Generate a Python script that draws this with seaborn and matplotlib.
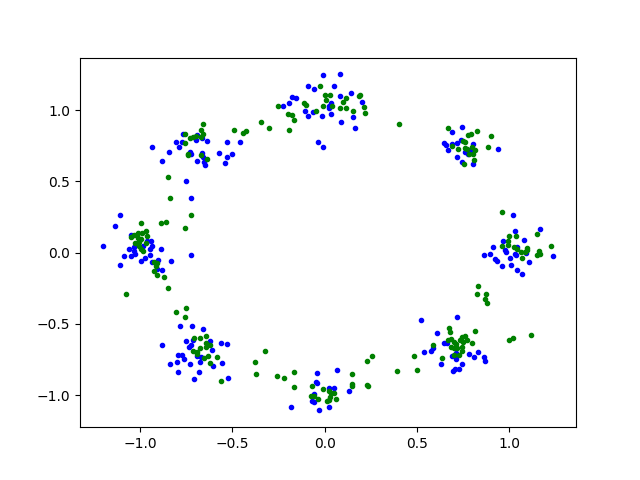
import matplotlib
matplotlib.use("Agg")
import matplotlib.pyplot as plt
import seaborn as sns

# values, one line per cluster
blue_x = [
    -0.938, -0.846, -0.884, -0.808, -0.792, -0.775, -0.770, -0.754, -0.699, -0.694, -0.694, -0.732, -0.725,
    -0.667, -0.639, -0.667, -0.661, -0.656, -0.650, -0.574, -0.531, -0.531, -0.504, -0.540, -0.460,
    -0.009, 0.083, -0.091, -0.058, 0.051, -0.178, -0.156, -0.194, -0.227, 0.083, 0.143, 0.203, 0.034,
    0.023, 0.023, -0.107, -0.091, -0.064, -0.015, 0.034, 0.154, 0.089, 0.165, -0.036, -0.009,
    0.746, 0.692, 0.648, 0.659, 0.670, 0.692, 0.719, 0.741, 0.806, 0.762, 0.719, 0.746, 0.806, 0.942, 0.779, 0.791,
    -0.726, -0.726, -1.107, -1.139, -1.204, -1.063, -1.085, -1.112, -1.047, -1.036, -1.030, -1.047, -1.036, -0.943,
    -0.938, -0.949, -0.949, -0.982, -0.889, -0.976, -0.993, -0.906, -0.835, -0.938, -0.879, -0.911, -0.965,
    1.024, 1.034, 1.170, 1.083, 0.969, 0.915, 0.980, 0.986, 0.866, 0.899, 0.926, 0.937, 0.964, 1.007, 1.013,
    1.034, 1.045, 1.045, 1.073, 1.111, 1.094, 1.241, 1.040,
    -0.786, -0.721, -0.661, -0.879, -0.754, -0.715, -0.726, -0.737, -0.623, -0.612, -0.563, -0.531, -0.797, -0.775,
    -0.764, -0.802, -0.840, -0.731, -0.694, -0.672, -0.677, -0.607, -0.558, -0.797, -0.683, -0.710, -0.525,
    -0.042, 0.067, -0.047, -0.042, 0.024, 0.051, 0.132, -0.058, -0.069, -0.058, -0.183, -0.031, 0.024,
    0.524, 0.720, 0.611, 0.649, 0.665, 0.540, 0.578, 0.589, 0.785, 0.812, 0.834, 0.866, 0.872, 0.747, 0.730,
    0.709, 0.698, 0.632, 0.714, 0.692, 0.714,
]
blue_y = [
    0.738, 0.703, 0.640, 0.773, 0.738, 0.773, 0.829, 0.500, 0.787, 0.822, 0.640, 0.703, 0.689,
    0.801, 0.780, 0.696, 0.668, 0.633, 0.612, 0.696, 0.773, 0.668, 0.689, 0.630, 0.773,
    1.243, 1.250, 1.166, 1.145, 1.166, 1.089, 1.082, 1.047, 1.026, 1.096, 1.117, 1.054, 1.047,
    1.026, 1.012, 0.991, 0.956, 0.984, 0.956, 0.970, 0.949, 0.914, 0.871, 0.773, 0.738,
    0.878, 0.843, 0.766, 0.752, 0.717, 0.759, 0.766, 0.787, 0.759, 0.703, 0.668, 0.633, 0.619, 0.724, 0.689, 0.719,
    0.380, -0.020, 0.261, 0.184, 0.044, 0.022, -0.027, -0.090, -0.027, 0.008, -0.013, 0.121, 0.036, 0.079,
    0.044, 0.022, -0.020, 0.044, 0.022, -0.041, -0.062, -0.055, -0.062, -0.069, -0.125, -0.118, 0.079,
    0.261, 0.148, 0.163, 0.085, 0.078, 0.036, 0.015, 0.001, -0.020, -0.013, -0.048, -0.062, -0.097, -0.041, -0.090,
    -0.013, 0.036, -0.126, -0.154, -0.069, -0.006, -0.027, -0.020,
    -0.518, -0.518, -0.539, -0.651, -0.623, -0.616, -0.651, -0.665, -0.623, -0.686, -0.637, -0.644, -0.721, -0.721,
    -0.749, -0.770, -0.784, -0.784, -0.728, -0.735, -0.770, -0.798, -0.777, -0.841, -0.841, -0.890, -0.883,
    -0.848, -0.827, -0.911, -0.918, -0.953, -0.953, -0.974, -0.995, -1.044, -1.047, -1.087, -1.108, -1.087,
    -0.476, -0.455, -0.567, -0.637, -0.637, -0.701, -0.694, -0.673, -0.715, -0.736, -0.701, -0.736, -0.764, -0.785, -0.820,
    -0.820, -0.834, -0.785, -0.750, -0.729, -0.708,
]
green_x = [
    -0.661, -0.672, -0.661, -0.759, -0.732, -0.716, -0.699, -0.672, -0.759, -0.743, -0.743, -0.672, -0.639, -0.851,
    -0.493, -0.444, -0.428,
    -0.025, 0.002, 0.029, 0.007, 0.192, 0.187, 0.116, 0.100, -0.112, -0.101, -0.254, -0.009, 0.040, 0.083, 0.116,
    0.214, -0.047, 0.154, 0.219, -0.199, -0.178, -0.167, -0.346, -0.303, -0.194, 0.404,
    0.670, 0.779, 0.795, 0.828, 0.904, 0.692, 0.752, 0.762, 0.724, 0.762, 0.773, 0.800, 0.817, 0.806, 0.784, 0.887, 0.811, 0.757,
    -0.840, -0.726, -0.998, -0.889, -0.862, -0.759, -0.971, -1.014, -0.992, -1.036, -1.047, -0.965, -1.014, -0.998,
    -1.030, -1.009, -0.971, -1.009, -0.998, -0.982, -0.927, -0.911, -0.916, -0.927, -0.911, -0.873, -0.851, -1.079,
    0.964, 1.002, 1.040, 1.154, 0.996, 0.964, 0.996, 1.029, 1.045, 1.067, 1.089, 1.100, 1.100, 1.073, 1.165, 1.170,
    1.154, 1.230, 0.833, 0.828, 0.877, 0.871, 0.882,
    -0.808, -0.754, -0.759, -0.710, -0.677, -0.645, -0.645, -0.623, -0.645, -0.677, -0.715, -0.694, -0.694, -0.634,
    -0.655, -0.585, -0.623, -0.563,
    -0.324, -0.379, -0.373, -0.259, -0.221, -0.167, -0.167, -0.069, -0.009, 0.148, 0.148, 0.148, 0.230, 0.235, 0.230,
    0.257, 0.393, 0.024, 0.051, 0.034, 0.029, 0.062, 0.024, 0.013, -0.076, -0.060, -0.036,
    0.676, 0.681, 0.817, 0.670, 0.687, 0.735, 0.746, 0.763, 0.774, 0.752, 0.801, 0.703, 0.714, 0.687, 0.703, 0.720,
    0.746, 0.746, 0.703, 0.730, 0.589, 0.638, 0.486, 0.502, 1.002, 1.024, 1.121,
]
green_y = [
    0.900, 0.857, 0.829, 0.829, 0.801, 0.813, 0.815, 0.808, 0.766, 0.691, 0.682, 0.682, 0.654, 0.528,
    0.857, 0.836, 0.850,
    1.166, 1.103, 1.103, 1.068, 1.103, 1.096, 1.082, 1.054, 1.047, 1.033, 1.026, 1.026, 1.026, 1.012, 1.012,
    1.019, 0.991, 0.991, 0.977, 0.970, 0.963, 0.928, 0.914, 0.871, 0.857, 0.900,
    0.871, 0.822, 0.829, 0.850, 0.815, 0.747, 0.780, 0.773, 0.724, 0.731, 0.724, 0.738, 0.717, 0.691, 0.689, 0.738, 0.647, 0.619,
    0.380, 0.261, 0.205, 0.205, 0.212, 0.170, 0.149, 0.135, 0.135, 0.121, 0.107, 0.114, 0.100, 0.093,
    0.065, 0.072, 0.065, 0.044, 0.022, 0.008, -0.069, -0.076, -0.097, -0.132, -0.160, -0.174, -0.251, -0.293,
    0.282, 0.113, 0.113, 0.127, 0.078, 0.043, 0.050, 0.036, 0.022, 0.001, 0.001, 0.029, 0.015, -0.041, 0.008, -0.013,
    -0.020, 0.043, -0.238, -0.294, -0.294, -0.329, -0.357,
    -0.420, -0.392, -0.455, -0.602, -0.602, -0.588, -0.637, -0.651, -0.665, -0.672, -0.693, -0.700, -0.714, -0.728,
    -0.742, -0.735, -0.777, -0.904,
    -0.694, -0.771, -0.855, -0.869, -0.883, -0.841, -0.946, -0.939, -0.960, -0.855, -0.925, -0.939, -0.932, -0.939, -0.764,
    -0.729, -0.834, -0.974, -0.988, -0.988, -1.016, -1.030, -1.037, -1.044, -1.009, -1.009, -1.030,
    -0.532, -0.560, -0.553, -0.616, -0.609, -0.612, -0.595, -0.588, -0.616, -0.630, -0.637, -0.630, -0.644, -0.666, -0.673, -0.673,
    -0.666, -0.694, -0.722, -0.722, -0.651, -0.743, -0.729, -0.827, -0.616, -0.602, -0.581,
]

fig, ax = plt.subplots(figsize=(6.4, 4.8), dpi=100)
sns.scatterplot(x=blue_x, y=blue_y, color="blue", edgecolor="blue", marker=".", s=36, linewidth=1, ax=ax)
sns.scatterplot(x=green_x, y=green_y, color="green", edgecolor="green", marker=".", s=36, linewidth=1, ax=ax)
fig.savefig("out.png", dpi=100)
